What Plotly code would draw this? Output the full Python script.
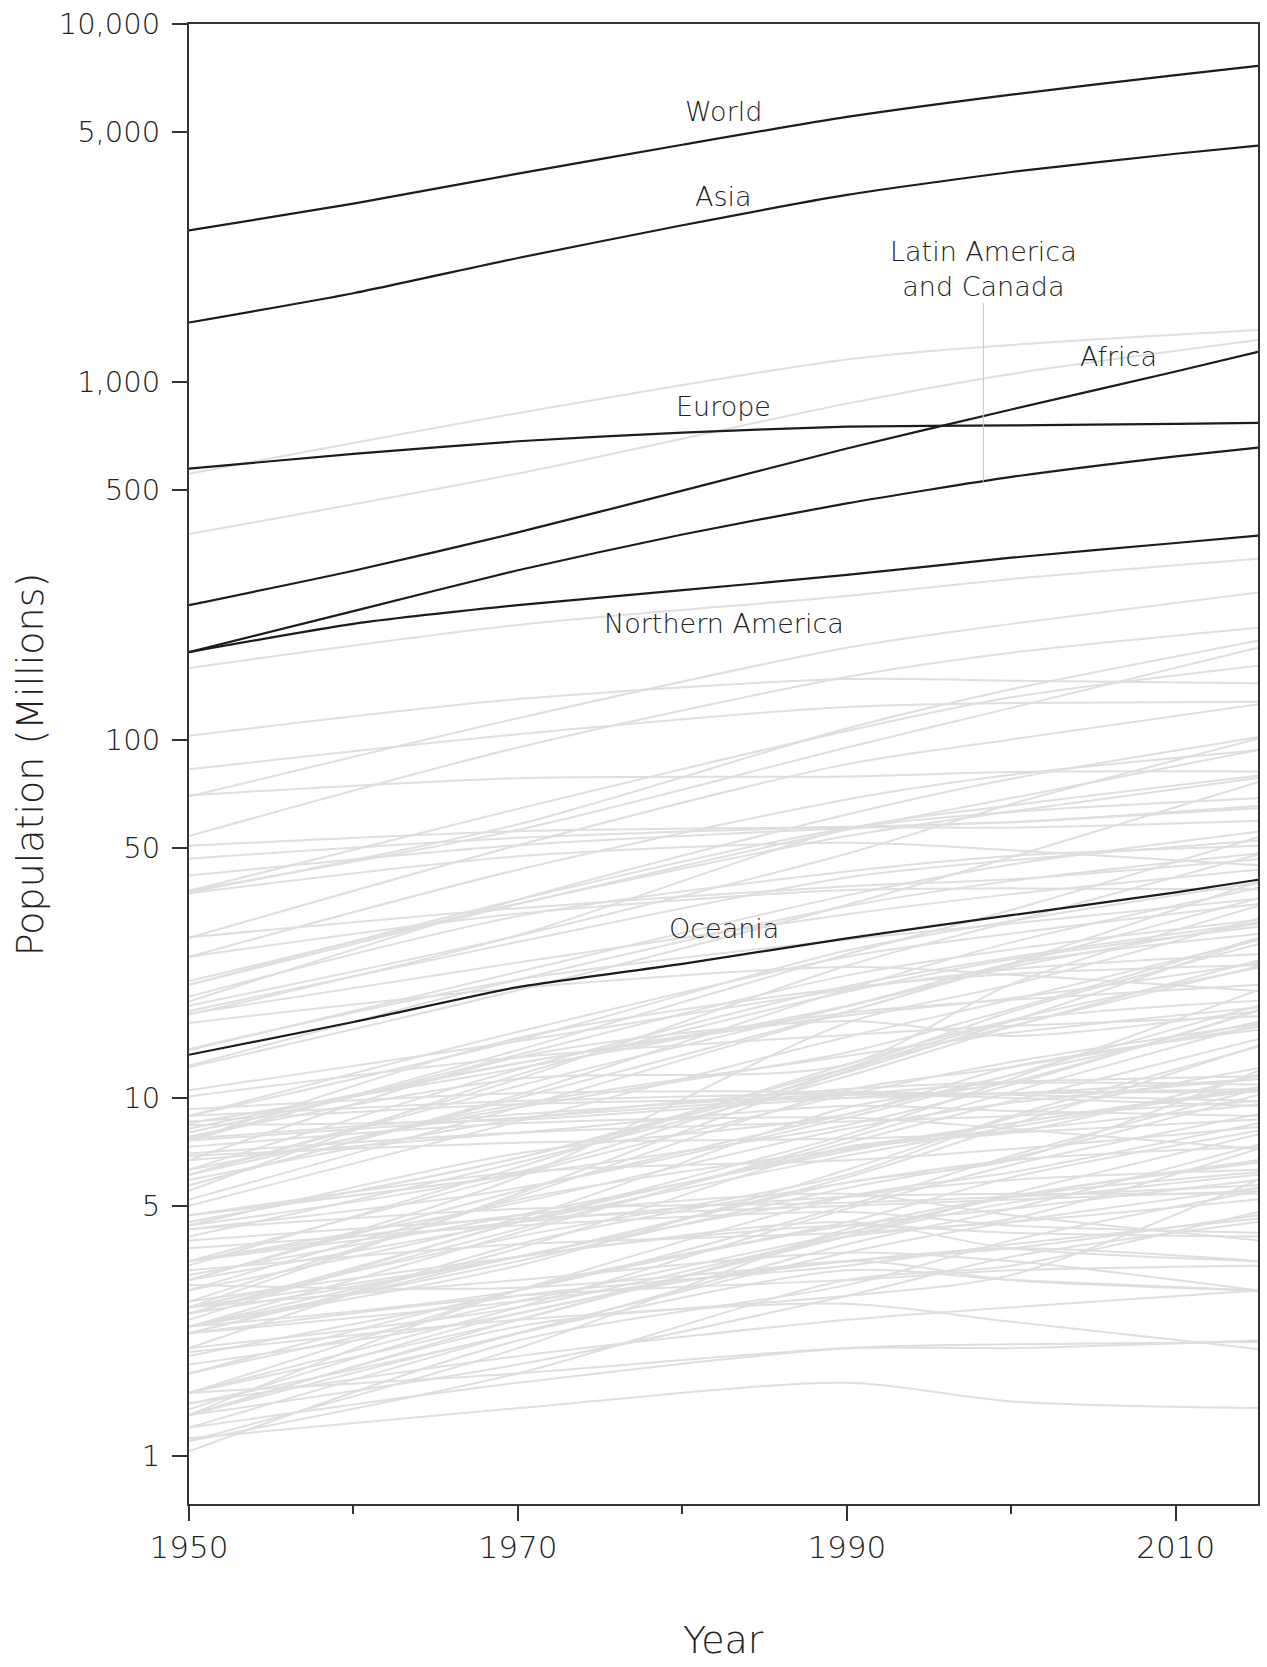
import math
import plotly.graph_objects as go

# ---------------- data ----------------
YEARS_REGION = [1950, 1960, 1970, 1980, 1990, 2000, 2010, 2015]
WORLD = [2650, 3150, 3820, 4600, 5500, 6350, 7200, 7640]
ASIA = [1466, 1770, 2220, 2740, 3330, 3860, 4340, 4571]
EUROPE = [573, 630, 683, 722, 750, 756, 764, 769]
AFRICA = [238, 297, 380, 497, 652, 838, 1070, 1214]
LATAM_CANADA = [176, 229, 298, 375, 458, 543, 620, 656]
NORTHERN_AMERICA = [176, 211, 238, 262, 289, 323, 355, 372]
OCEANIA = [13.2, 16.3, 20.4, 23.7, 27.9, 32.4, 37.5, 40.7]

YEARS_COUNTRY = [1950, 1970, 1990, 2000, 2015]

ASIA_COUNTRIES = {
    "China": [554, 818, 1155, 1269, 1397],
    "India": [376, 555, 870, 1053, 1310],
    "Indonesia": [69.5, 115, 181, 211, 258],
    "Pakistan": [37.5, 58.1, 107.6, 138.5, 189.4],
    "Bangladesh": [37.9, 64.2, 106.0, 131.6, 161.2],
    "Japan": [82.8, 103.7, 123.7, 126.8, 127.9],
    "Philippines": [18.6, 35.8, 61.9, 77.9, 101.7],
    "Vietnam": [24.8, 43.4, 68.2, 79.9, 93.6],
    "Iran": [17.1, 28.5, 56.4, 65.6, 79.4],
    "Turkey": [21.2, 34.9, 53.9, 63.2, 78.3],
    "Thailand": [20.7, 35.8, 56.6, 62.9, 68.7],
    "Myanmar": [17.5, 27.3, 41.3, 46.1, 52.4],
    "South Korea": [19.2, 32.2, 42.9, 47.4, 50.6],
    "Iraq": [5.7, 10.0, 17.4, 23.6, 36.1],
    "Afghanistan": [7.8, 11.3, 12.4, 20.8, 34.4],
    "Saudi Arabia": [3.1, 6.0, 16.2, 20.7, 31.7],
    "Uzbekistan": [6.3, 12.0, 20.5, 24.7, 30.9],
    "Malaysia": [6.1, 10.8, 18.0, 23.2, 30.7],
    "Nepal": [8.5, 12.1, 18.1, 23.7, 28.7],
    "Yemen": [4.4, 6.2, 12.1, 17.4, 26.9],
    "North Korea": [10.5, 14.4, 20.1, 22.9, 25.2],
    "Taiwan": [7.6, 14.7, 20.3, 22.2, 23.5],
    "Sri Lanka": [8.0, 12.5, 17.3, 18.8, 20.7],
    "Syria": [3.4, 6.4, 12.4, 16.4, 18.7],
    "Kazakhstan": [6.7, 13.0, 16.4, 14.9, 17.5],
    "Cambodia": [4.4, 7.0, 9.0, 12.2, 15.5],
    "Azerbaijan": [2.9, 5.2, 7.2, 8.1, 9.6],
    "Tajikistan": [1.5, 2.9, 5.3, 6.2, 8.5],
    "Israel": [1.3, 2.9, 4.5, 6.0, 8.1],
    "Hong Kong": [2.0, 3.9, 5.8, 6.7, 7.3],
    "Laos": [1.7, 2.7, 4.2, 5.3, 6.7],
    "Lebanon": [1.3, 2.3, 2.8, 3.2, 5.9],
    "Kyrgyzstan": [1.7, 2.9, 4.4, 4.9, 5.9],
    "Turkmenistan": [1.2, 2.2, 3.7, 4.5, 5.6],
    "Singapore": [1.03, 2.1, 3.0, 4.0, 5.5],
    "Georgia": [3.5, 4.7, 5.4, 4.7, 4.0],
    "Armenia": [1.35, 2.5, 3.5, 3.1, 2.9],
}

EUROPE_COUNTRIES = {
    "Russia": [102.8, 130.1, 148.0, 146.4, 144.0],
    "Germany": [70.1, 78.2, 79.1, 81.4, 81.7],
    "United Kingdom": [50.6, 55.6, 57.2, 58.9, 65.4],
    "France": [41.8, 50.8, 56.7, 59.0, 64.5],
    "Italy": [46.6, 53.3, 57.0, 56.9, 59.5],
    "Spain": [28.1, 33.9, 39.0, 40.8, 46.4],
    "Ukraine": [37.3, 47.3, 51.6, 49.2, 44.7],
    "Poland": [24.8, 32.7, 38.1, 38.5, 38.3],
    "Romania": [16.2, 20.3, 23.2, 22.1, 19.9],
    "Netherlands": [10.1, 13.0, 15.0, 15.9, 16.9],
    "Belgium": [8.6, 9.6, 10.0, 10.3, 11.3],
    "Greece": [7.6, 8.8, 10.2, 11.0, 10.9],
    "Czech Republic": [8.9, 9.8, 10.3, 10.3, 10.6],
    "Portugal": [8.4, 8.7, 10.0, 10.3, 10.4],
    "Sweden": [7.0, 8.0, 8.6, 8.9, 9.8],
    "Hungary": [9.3, 10.3, 10.4, 10.2, 9.8],
    "Belarus": [7.7, 9.0, 10.2, 10.0, 9.5],
    "Austria": [6.9, 7.5, 7.7, 8.0, 8.7],
    "Switzerland": [4.7, 6.2, 6.7, 7.2, 8.3],
    "Serbia": [6.7, 8.0, 9.5, 9.2, 8.9],
    "Bulgaria": [7.3, 8.5, 8.8, 8.2, 7.2],
    "Denmark": [4.3, 4.9, 5.1, 5.3, 5.7],
    "Finland": [4.0, 4.6, 5.0, 5.2, 5.5],
    "Slovakia": [3.5, 4.5, 5.3, 5.4, 5.4],
    "Norway": [3.3, 3.9, 4.2, 4.5, 5.2],
    "Ireland": [3.0, 2.95, 3.5, 3.8, 4.7],
    "Croatia": [3.8, 4.4, 4.8, 4.4, 4.2],
    "Bosnia and Herzegovina": [2.7, 3.6, 4.5, 3.8, 3.5],
    "Moldova": [2.3, 3.6, 4.4, 4.2, 4.1],
    "Albania": [1.3, 2.2, 3.3, 3.1, 2.9],
    "Lithuania": [2.6, 3.1, 3.7, 3.5, 2.9],
    "Latvia": [1.95, 2.4, 2.66, 2.37, 1.99],
    "Slovenia": [1.5, 1.7, 2.0, 2.0, 2.1],
    "North Macedonia": [1.2, 1.6, 2.0, 2.05, 2.08],
    "Estonia": [1.12, 1.36, 1.6, 1.42, 1.36],
}

AFRICA_COUNTRIES = {
    "Nigeria": [37.9, 56.1, 95.3, 122.9, 181.1],
    "Ethiopia": [18.1, 28.4, 48.1, 66.2, 100.8],
    "Egypt": [20.7, 34.8, 56.1, 68.8, 93.8],
    "DR Congo": [12.2, 20.0, 34.6, 47.1, 76.2],
    "South Africa": [13.6, 22.5, 36.8, 44.9, 55.4],
    "Tanzania": [7.6, 13.6, 25.2, 33.5, 53.5],
    "Kenya": [6.1, 11.3, 23.4, 31.1, 47.9],
    "Algeria": [8.9, 14.5, 25.8, 31.2, 39.9],
    "Uganda": [5.2, 9.4, 17.4, 23.8, 40.1],
    "Sudan": [5.7, 10.2, 20.1, 27.2, 38.6],
    "Morocco": [8.9, 15.3, 24.8, 28.8, 34.8],
    "Mozambique": [6.3, 9.4, 13.4, 17.7, 28.0],
    "Ghana": [5.0, 8.6, 14.8, 18.8, 27.6],
    "Angola": [4.5, 6.8, 11.8, 16.4, 27.9],
    "Madagascar": [4.1, 6.6, 11.5, 15.8, 24.2],
    "Cameroon": [4.5, 6.8, 12.1, 15.9, 23.3],
    "Côte d'Ivoire": [2.6, 5.4, 11.9, 16.5, 23.1],
    "Niger": [2.5, 4.5, 7.9, 11.3, 20.0],
    "Burkina Faso": [4.3, 5.6, 8.8, 11.6, 18.1],
    "Mali": [4.7, 6.1, 8.4, 10.9, 17.5],
    "Malawi": [2.9, 4.6, 9.4, 11.1, 17.6],
    "Zambia": [2.3, 4.2, 7.7, 10.4, 16.1],
    "Zimbabwe": [2.7, 5.3, 10.5, 12.2, 15.8],
    "Senegal": [2.5, 4.3, 7.5, 9.8, 14.6],
    "Chad": [2.5, 3.6, 6.0, 8.4, 14.0],
    "Somalia": [2.3, 3.4, 6.3, 8.9, 13.9],
    "Guinea": [2.6, 4.1, 6.1, 8.8, 12.1],
    "South Sudan": [2.6, 3.6, 5.8, 6.7, 11.9],
    "Rwanda": [2.2, 3.8, 7.3, 8.0, 11.6],
    "Tunisia": [3.5, 5.1, 8.2, 9.7, 11.3],
    "Benin": [2.3, 2.9, 5.0, 6.9, 10.6],
    "Burundi": [2.3, 3.5, 5.6, 6.8, 10.2],
    "Togo": [1.4, 2.2, 3.9, 4.9, 7.4],
    "Sierra Leone": [2.0, 2.6, 4.1, 4.6, 7.2],
    "Libya": [1.1, 2.0, 4.3, 5.3, 6.2],
    "Eritrea": [1.1, 1.7, 3.1, 3.4, 4.8],
    "Central African Republic": [1.3, 1.8, 2.8, 3.6, 4.5],
}

AMERICAS_COUNTRIES = {
    "United States": [158.8, 209.5, 252.5, 281.7, 320.9],
    "Brazil": [53.9, 95.3, 150.0, 175.3, 205.9],
    "Mexico": [28.0, 50.8, 85.6, 100.3, 125.9],
    "Colombia": [12.3, 21.4, 34.3, 40.4, 48.2],
    "Argentina": [17.2, 23.9, 32.6, 37.1, 43.4],
    "Canada": [13.7, 21.4, 27.7, 30.7, 36.0],
    "Peru": [7.7, 13.2, 22.0, 26.0, 31.4],
    "Venezuela": [5.5, 11.6, 19.8, 24.4, 30.1],
    "Chile": [6.1, 9.6, 13.1, 15.2, 17.9],
    "Ecuador": [3.5, 6.1, 10.2, 12.6, 16.1],
    "Guatemala": [3.1, 5.5, 9.0, 11.6, 16.3],
    "Cuba": [5.9, 8.7, 10.6, 11.1, 11.5],
    "Bolivia": [3.1, 4.5, 6.9, 8.3, 10.7],
    "Haiti": [3.2, 4.7, 7.1, 8.5, 10.7],
    "Dominican Republic": [2.4, 4.5, 7.2, 8.5, 10.5],
    "Honduras": [1.5, 2.6, 4.9, 6.5, 9.0],
    "Paraguay": [1.5, 2.4, 4.2, 5.3, 6.6],
    "El Salvador": [2.2, 3.6, 5.3, 5.9, 6.3],
    "Nicaragua": [1.3, 2.4, 4.1, 5.1, 6.1],
    "Puerto Rico": [2.2, 2.7, 3.5, 3.8, 3.5],
    "Uruguay": [2.2, 2.8, 3.1, 3.3, 3.4],
    "Jamaica": [1.4, 1.9, 2.4, 2.6, 2.9],
}

OCEANIA_COUNTRIES = {
    "Australia": [8.2, 12.5, 17.0, 19.0, 23.8],
    "Papua New Guinea": [1.8, 2.5, 4.1, 5.4, 7.9],
    "New Zealand": [1.9, 2.8, 3.4, 3.9, 4.6],
}

Y_TICKS = [1, 5, 10, 50, 100, 500, 1000, 5000, 10000]
Y_TICK_TEXT = ["1", "5", "10", "50", "100", "500", "1,000", "5,000", "10,000"]
X_TICKS = [1950, 1970, 1990, 2010]
X_MINOR_TICKS = [1960, 1980, 2000]

# ---------------- figure ----------------
FONT = "'DejaVu Sans', Lato, sans-serif"
TEXT_COL = "#222222"
GRAY = "#dedede"
DARK = "#1c1c1c"
WEIGHT = 200

fig = go.Figure()

for group in (ASIA_COUNTRIES, EUROPE_COUNTRIES, AFRICA_COUNTRIES,
              AMERICAS_COUNTRIES, OCEANIA_COUNTRIES):
    for name, vals in group.items():
        fig.add_trace(go.Scatter(
            x=YEARS_COUNTRY, y=vals, mode="lines", name=name,
            line=dict(color=GRAY, width=2, shape="spline", smoothing=0.8),
            hoverinfo="name+y", showlegend=False))

for name, vals in [("World", WORLD), ("Asia", ASIA), ("Europe", EUROPE),
                   ("Africa", AFRICA), ("Latin America and Canada", LATAM_CANADA),
                   ("Northern America", NORTHERN_AMERICA), ("Oceania", OCEANIA)]:
    fig.add_trace(go.Scatter(
        x=YEARS_REGION, y=vals, mode="lines", name=name,
        line=dict(color=DARK, width=2.2, shape="spline", smoothing=0.6),
        hoverinfo="name+y", showlegend=False))

label_font = dict(family=FONT, size=27, color=TEXT_COL, weight=WEIGHT)
labels = [
    ("World", 1982.5, 5700),
    ("Asia", 1982.5, 3300),
    ("Europe", 1982.5, 855),
    ("Northern America", 1982.5, 211),
    ("Oceania", 1982.5, 29.7),
    ("Africa", 2006.5, 1175),
]
for text, x, y in labels:
    fig.add_annotation(x=x, y=math.log10(y), text=text, showarrow=False,
                       font=label_font, xanchor="center", yanchor="middle")

fig.add_annotation(x=1998.3, y=math.log10(527), text="Latin America<br>and Canada",
                   showarrow=True, arrowhead=0, arrowwidth=1, arrowcolor="#c8c8c8",
                   ax=0, ay=-213, standoff=0, font=label_font, align="center")

fig.add_annotation(x=-0.1485, y=0.5, xref="paper", yref="paper",
                   xanchor="center", yanchor="middle",
                   text="Population (Millions)", textangle=-90, showarrow=False,
                   font=dict(family=FONT, size=38, color=TEXT_COL, weight=WEIGHT))
fig.add_annotation(x=0.5, y=-0.092, xref="paper", yref="paper",
                   text="Year", showarrow=False, yanchor="middle",
                   font=dict(family=FONT, size=38, color=TEXT_COL, weight=WEIGHT))

fig.update_xaxes(
    range=[1950, 2015], tickvals=X_TICKS, ticks="outside", ticklen=15,
    tickwidth=2, tickcolor="#333", showline=True, linecolor="#333",
    linewidth=2, mirror=True, showgrid=False, zeroline=False,
    tickfont=dict(family=FONT, size=31, color=TEXT_COL, weight=WEIGHT),
    ticklabelstandoff=0,
    minor=dict(tickvals=X_MINOR_TICKS, ticks="outside", ticklen=8,
               tickwidth=2, tickcolor="#333", showgrid=False),
)
fig.update_yaxes(
    type="log", range=[math.log10(0.734), 4], tickvals=Y_TICKS,
    ticktext=Y_TICK_TEXT, ticks="outside", ticklen=15, tickwidth=2,
    tickcolor="#333", showline=True, linecolor="#333", linewidth=2,
    mirror=True, showgrid=False, zeroline=False,
    tickfont=dict(family=FONT, size=29, color=TEXT_COL, weight=WEIGHT),
    ticklabelstandoff=6,
)

fig.update_layout(
    width=1267, height=1667,
    margin=dict(l=189, r=7, t=23, b=163),
    plot_bgcolor="white", paper_bgcolor="white",
    font=dict(family=FONT, color=TEXT_COL),
    showlegend=False,
)

fig.write_html("out.html")
